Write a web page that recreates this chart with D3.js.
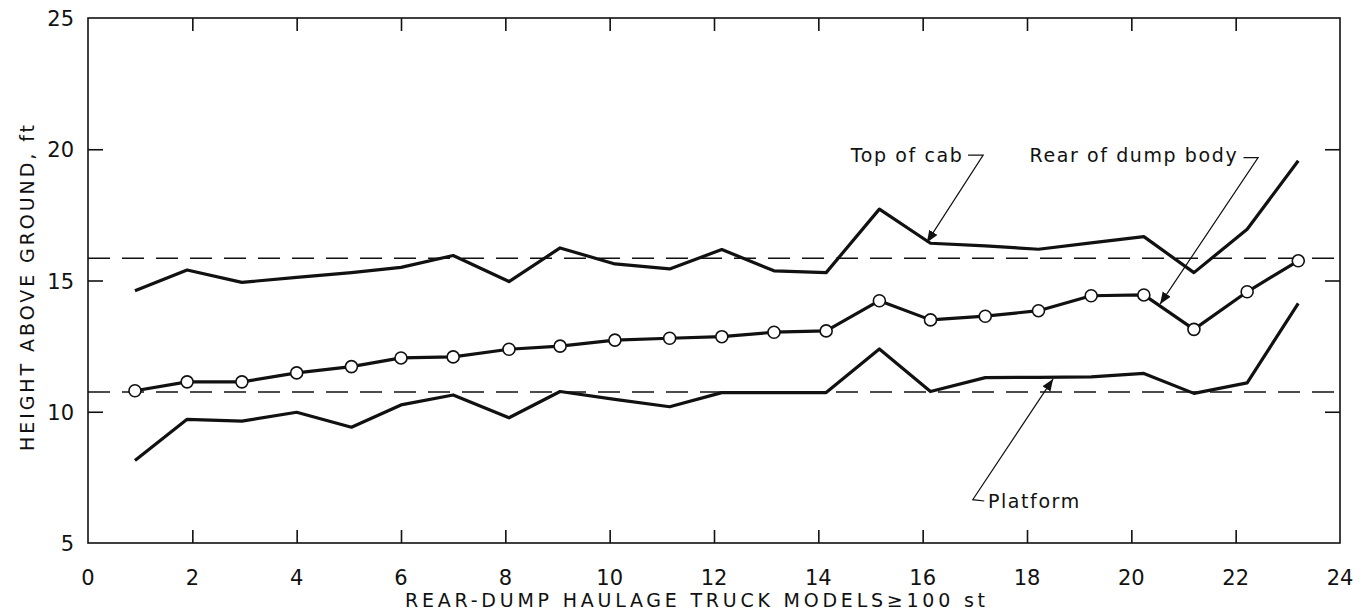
<!DOCTYPE html>
<html>
<head>
<meta charset="utf-8">
<script src="https://cdn.jsdelivr.net/npm/d3@7"></script>
<style>
  body { margin: 0; background: #fff; }
  text { font-family: "DejaVu Sans", sans-serif; fill: #111; }
</style>
</head>
<body>
<div class="chart"></div>
<script>
// truck model positions (as plotted) and heights, ft
const models = [0.9, 1.9, 2.95, 4, 5.05, 6, 7, 8.07, 9.05, 10.1, 11.15, 12.15, 13.15, 14.15, 15.17, 16.15, 17.2, 18.22, 19.23, 20.24, 21.2, 22.22, 23.2];
const topOfCab = [14.61, 15.4, 14.93, 15.12, 15.3, 15.5, 15.95, 14.96, 16.24, 15.63, 15.44, 16.18, 15.37, 15.3, 17.72, 16.42, 16.32, 16.19, 16.43, 16.67, 15.3, 16.95, 19.56];
const rearOfBody = [10.8, 11.14, 11.14, 11.48, 11.72, 12.05, 12.09, 12.38, 12.5, 12.73, 12.8, 12.86, 13.03, 13.08, 14.23, 13.5, 13.64, 13.85, 14.42, 14.45, 13.14, 14.57, 15.75];
const platform = [8.14, 9.71, 9.64, 9.98, 9.41, 10.26, 10.64, 9.77, 10.77, 10.47, 10.19, 10.73, 10.73, 10.73, 12.39, 10.77, 11.3, 11.31, 11.33, 11.46, 10.7, 11.1, 14.13];
const refLines = [15.85, 10.75];
const xTicks = [0, 2, 4, 6, 8, 10, 12, 14, 16, 18, 20, 22, 24];
const yTicks = [5, 10, 15, 20, 25];

// label, text anchor point, hook corner, arrow tip (data units)
const notes = [
  { label: "Top of cab", text: [16.78, 19.5], anchor: "end", path: [[16.87, 19.78], [17.16, 19.78], [16.08, 16.45]] },
  { label: "Rear of dump body", text: [22.05, 19.5], anchor: "end", path: [[22.15, 19.68], [22.43, 19.68], [20.55, 14.1]] },
  { label: "Platform", text: [17.25, 6.35], anchor: "start", path: [[17.18, 6.6], [16.96, 6.65], [18.5, 11.25]] }
];

const W = 1365, H = 613;
const margin = ({ top: 18, right: 25, bottom: 70, left: 88 });

const svg = d3.select(".chart").append("svg")
    .attr("width", W)
    .attr("height", H);

const x = d3.scaleLinear().domain([0, 24]).range([margin.left, W - margin.right]);
const y = d3.scaleLinear().domain([5, 25]).range([H - margin.bottom, margin.top]);

// frame
svg.append("rect")
    .attr("x", x(0)).attr("y", y(25))
    .attr("width", x(24) - x(0)).attr("height", y(5) - y(25))
    .attr("fill", "none").attr("stroke", "#111").attr("stroke-width", 1.6);

// inward ticks, all four sides
const tickLen = 13;
const xInner = xTicks.filter(d => d > 0 && d < 24);
const yInner = yTicks.filter(d => d > 5 && d < 25);
svg.append("g").attr("transform", `translate(0,${y(5)})`)
    .call(d3.axisTop(x).tickValues(xInner).tickSize(tickLen).tickFormat(""))
    .call(g => g.select(".domain").remove());
svg.append("g").attr("transform", `translate(0,${y(25)})`)
    .call(d3.axisBottom(x).tickValues(xInner).tickSize(tickLen).tickFormat(""))
    .call(g => g.select(".domain").remove());
svg.append("g").attr("transform", `translate(${x(0)},0)`)
    .call(d3.axisRight(y).tickValues(yInner).tickSize(tickLen + 2).tickFormat(""))
    .call(g => g.select(".domain").remove());
svg.append("g").attr("transform", `translate(${x(24)},0)`)
    .call(d3.axisLeft(y).tickValues(yInner).tickSize(tickLen + 2).tickFormat(""))
    .call(g => g.select(".domain").remove());
svg.selectAll(".tick line").attr("stroke", "#111").attr("stroke-width", 1.6);

// tick labels
svg.append("g").selectAll("text")
    .data(xTicks)
    .join("text")
    .attr("x", d => x(d))
    .attr("y", y(5) + 42)
    .attr("text-anchor", "middle")
    .attr("font-size", 21)
    .text(d => d);

svg.append("g").selectAll("text")
    .data(yTicks)
    .join("text")
    .attr("x", x(0) - 14)
    .attr("y", d => y(d) + 8)
    .attr("text-anchor", "end")
    .attr("font-size", 21)
    .text(d => d);

// axis titles
svg.append("text")
    .attr("x", 695)
    .attr("y", 607)
    .attr("text-anchor", "middle")
    .attr("font-size", 19)
    .attr("textLength", 580)
    .attr("lengthAdjust", "spacing")
    .text("REAR-DUMP HAULAGE TRUCK MODELS\u2265100 st");

svg.append("text")
    .attr("transform", `translate(34,${288}) rotate(-90)`)
    .attr("text-anchor", "middle")
    .attr("font-size", 19)
    .attr("textLength", 326)
    .attr("lengthAdjust", "spacing")
    .text("HEIGHT ABOVE GROUND,  ft");

// dashed reference lines
svg.append("g").selectAll("line")
    .data(refLines)
    .join("line")
    .attr("x1", x(0)).attr("x2", x(24))
    .attr("y1", d => y(d)).attr("y2", d => y(d))
    .attr("stroke", "#111")
    .attr("stroke-width", 1.6)
    .attr("stroke-dasharray", "22,12");

// series
const line = d3.line().x(d => x(d[0])).y(d => y(d[1]));
[topOfCab, rearOfBody, platform].forEach(vals => {
    svg.append("path")
        .datum(models.map((m, i) => [m, vals[i]]))
        .attr("d", line)
        .attr("fill", "none")
        .attr("stroke", "#111")
        .attr("stroke-width", 3.2)
        .attr("stroke-linejoin", "round");
});

svg.append("g").selectAll("circle")
    .data(models.map((m, i) => [m, rearOfBody[i]]))
    .join("circle")
    .attr("cx", d => x(d[0]))
    .attr("cy", d => y(d[1]))
    .attr("r", 6)
    .attr("fill", "#fff")
    .attr("stroke", "#111")
    .attr("stroke-width", 1.6);

// annotations
svg.append("defs").append("marker")
    .attr("id", "arrow")
    .attr("viewBox", "0 0 10 10")
    .attr("refX", 10).attr("refY", 5)
    .attr("markerWidth", 12).attr("markerHeight", 12)
    .attr("markerUnits", "userSpaceOnUse")
    .attr("orient", "auto")
    .append("path")
    .attr("d", "M0,1 L10,5 L0,9 Z")
    .attr("fill", "#111");

notes.forEach(n => {
    svg.append("path")
        .attr("d", d3.line()(n.path.map(p => [x(p[0]), y(p[1])])))
        .attr("fill", "none")
        .attr("stroke", "#111")
        .attr("stroke-width", 1.2)
        .attr("marker-end", "url(#arrow)");
    svg.append("text")
        .attr("x", x(n.text[0]))
        .attr("y", y(n.text[1]))
        .attr("text-anchor", n.anchor)
        .attr("font-size", 19)
        .attr("letter-spacing", 1.6)
        .text(n.label);
});
</script>
</body>
</html>
